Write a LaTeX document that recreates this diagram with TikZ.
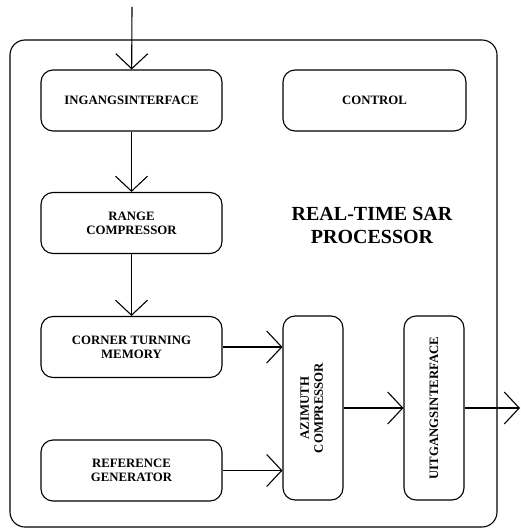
\documentclass[tikz,border=0pt]{standalone}
\usepackage{fontspec}
\setmainfont{Liberation Serif}
\usepackage{tikz}
\usetikzlibrary{positioning,arrows.meta}

\tikzset{
    blk/.style={draw, line width=1.1pt, rounded corners=12pt, minimum width=181pt, minimum height=61pt,
        align=center, font=\fontsize{12.8}{14}\selectfont\bfseries, inner sep=2pt},
    tall/.style={blk, minimum width=60pt, minimum height=184pt},
    flow/.style={line width=1.1pt, -{Straight Barb[length=15pt, width=32pt, line width=1.1pt]}}
}

\begin{document}
\begin{tikzpicture}[x=1pt, y=-1pt]
        \useasboundingbox (0,0) rectangle (520,529);
        \draw[line width=1.1pt, rounded corners=15pt] (10,40) rectangle (497,527);

        \coordinate (in) at (132,7);
        \node[blk] (ing) at (131.5,100.5) {INGANGSINTERFACE};
        \node[blk, minimum width=183pt] (ctrl) at (374.5,100.5) {CONTROL};
        \node[blk] (rng) at (131.5,223) {RANGE\\COMPRESSOR};
        \node[align=center, font=\fontsize{20}{23}\selectfont\bfseries] (title) at (372,225) {REAL-TIME SAR\\PROCESSOR};
        \node[blk] (ctm) at (131.5,347) {CORNER TURNING\\MEMORY};
        \node[blk] (ref) at (131.5,470.5) {REFERENCE\\GENERATOR};

        \node[tall] (az) at (313,408) {\rotatebox{90}{\begin{tabular}{@{}c@{}}AZIMUTH\\COMPRESSOR\end{tabular}}};
        \node[tall] (uit) at (434,408) {\rotatebox{90}{UITGANGSINTERFACE}};
        \coordinate (out) at (520,408);

        \draw[flow] (in) -- (ing);
        \draw[flow] (ing) -- (rng);
        \draw[flow] (rng) -- (ctm);
        \draw[flow] (ctm.east) -- (ctm.east -| az.west);
        \draw[flow] (ref.east) -- (ref.east -| az.west);
        \draw[flow] (az) -- (uit);
        \draw[flow] (uit.east) -- (out);
    \end{tikzpicture}
\end{document}
